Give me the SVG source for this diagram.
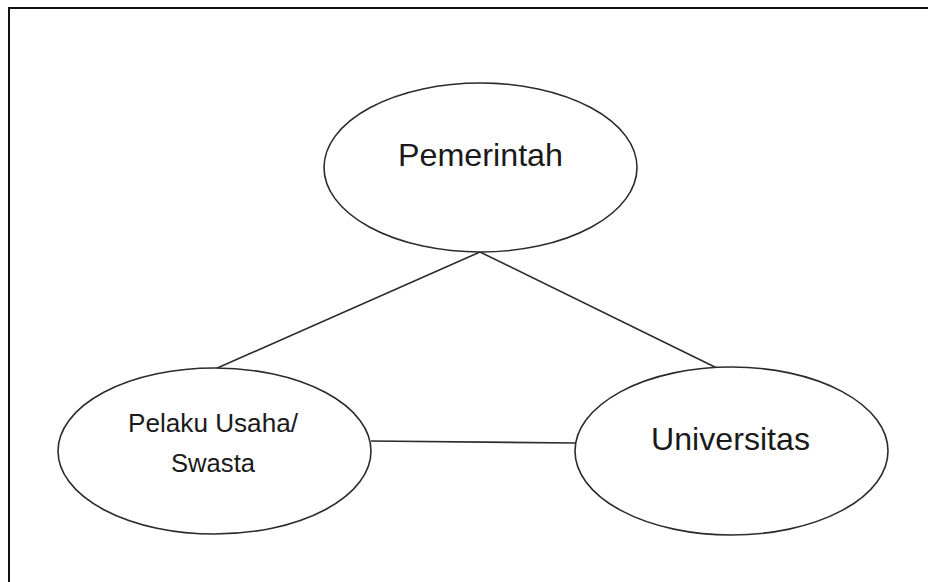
<svg xmlns="http://www.w3.org/2000/svg" width="928" height="582" viewBox="0 0 928 582">
<style>
.node{fill:#fff;stroke:#2b2b2b;stroke-width:1.6}
.lbl{font-family:"Liberation Sans","DejaVu Sans",sans-serif;fill:#1a1a1a;text-anchor:middle}
.big{font-size:32px}
.small{font-size:26px}
.conn{stroke:#2b2b2b;stroke-width:1.6;fill:none}
</style>
<rect width="928" height="582" fill="#fff"/>
<path d="M9,582 V8 H928" fill="none" stroke="#111" stroke-width="2"/>
<g id="connectors">
<line class="conn" x1="480" y1="252" x2="206" y2="373"/>
<line class="conn" x1="480" y1="252" x2="725" y2="372"/>
<line class="conn" x1="371" y1="441" x2="575" y2="443"/>
</g>
<g id="pemerintah">
<ellipse class="node" cx="480.5" cy="167.5" rx="156.5" ry="84.5"/>
<text class="lbl big" x="480.5" y="166" textLength="165" lengthAdjust="spacingAndGlyphs">Pemerintah</text>
</g>
<g id="pelaku-usaha">
<ellipse class="node" cx="214.5" cy="451" rx="156.5" ry="83"/>
<text class="lbl small" x="213" y="432" textLength="170" lengthAdjust="spacingAndGlyphs">Pelaku Usaha/</text>
<text class="lbl small" x="213" y="472" textLength="84" lengthAdjust="spacingAndGlyphs">Swasta</text>
</g>
<g id="universitas">
<ellipse class="node" cx="731.5" cy="451" rx="156.5" ry="84"/>
<text class="lbl big" x="730.5" y="450" textLength="159" lengthAdjust="spacingAndGlyphs">Universitas</text>
</g>
</svg>
